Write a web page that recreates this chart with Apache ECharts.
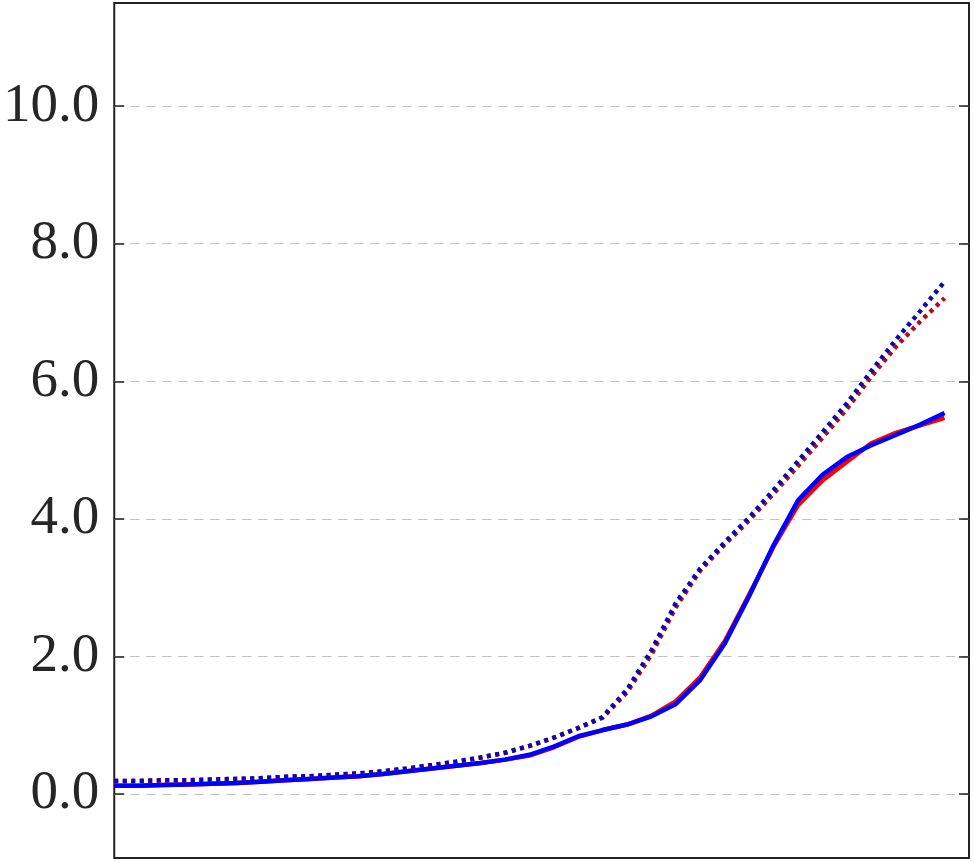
<!DOCTYPE html>
<html>
<head>
    <meta charset="utf-8">
    <title>curves</title>
    <script src="https://cdn.jsdelivr.net/npm/echarts@6/dist/echarts.min.js"></script>
    <style>
        html, body { margin: 0; padding: 0; background: #fff; }
        #main { width: 974px; height: 863px; }
    </style>
</head>
<body>
    <div id="main"></div>
    <script type="text/javascript">
    // x positions (step index)
    var steps = [0, 1, 2, 3, 4, 5, 6, 7, 8, 9, 10, 11, 12, 13, 14, 15, 16, 17,
                 18, 19, 20, 21, 22, 23, 24, 25, 26, 27, 28, 29, 30, 31, 32, 33, 34];

    // solid lines
    var redSolid = [0.12, 0.12, 0.13, 0.14, 0.15, 0.16, 0.18, 0.20, 0.22, 0.24, 0.26, 0.29,
                    0.33, 0.37, 0.41, 0.45, 0.50, 0.56, 0.68, 0.83, 0.93, 1.01, 1.14, 1.35,
                    1.70, 2.22, 2.90, 3.60, 4.20, 4.56, 4.83, 5.10, 5.25, 5.36, 5.47];
    var blueSolid = [0.12, 0.12, 0.13, 0.14, 0.15, 0.16, 0.18, 0.20, 0.22, 0.24, 0.26, 0.29,
                     0.33, 0.37, 0.41, 0.45, 0.50, 0.57, 0.69, 0.84, 0.93, 1.01, 1.13, 1.31,
                     1.66, 2.19, 2.88, 3.62, 4.27, 4.64, 4.90, 5.07, 5.22, 5.37, 5.54];

    // dotted lines
    var redDotted = [0.19, 0.19, 0.20, 0.20, 0.21, 0.22, 0.23, 0.25, 0.26, 0.28, 0.30, 0.33,
                     0.37, 0.42, 0.47, 0.53, 0.60, 0.70, 0.82, 0.96, 1.11, 1.48, 2.03, 2.72,
                     3.25, 3.63, 3.98, 4.37, 4.77, 5.18, 5.60, 6.07, 6.50, 6.87, 7.21];
    var blueDotted = [0.19, 0.19, 0.20, 0.20, 0.21, 0.22, 0.23, 0.25, 0.26, 0.28, 0.30, 0.33,
                      0.37, 0.42, 0.47, 0.53, 0.60, 0.70, 0.82, 0.96, 1.12, 1.52, 2.09, 2.78,
                      3.28, 3.66, 4.02, 4.42, 4.84, 5.26, 5.68, 6.15, 6.60, 7.02, 7.45];

    var yTicks = [0, 2, 4, 6, 8, 10];

    function pairs(ys) {
        var out = [];
        for (var i = 0; i < steps.length; i++) {
            out.push([steps[i], ys[i]]);
        }
        return out;
    }

    var myChart = echarts.init(document.getElementById('main'));

    var lineSeries = function (name, ys, color, dotted, z) {
        return {
            name: name,
            type: 'line',
            data: pairs(ys),
            showSymbol: false,
            symbol: 'none',
            z: z,
            animation: false,
            lineStyle: {
                color: color,
                width: 4.5,
                type: dotted ? [4, 4.5] : 'solid',
                cap: 'butt'
            }
        };
    };

    var yCommon = {
        type: 'value',
        min: -0.93,
        max: 11.5,
        axisLine: { show: false },
        axisTick: {
            show: true,
            inside: true,
            length: 10,
            customValues: yTicks,
            lineStyle: { color: '#222', width: 1.5 }
        }
    };

    var option = {
        animation: false,
        grid: {
            left: 113,
            right: 5,
            top: 3,
            bottom: 5,
            show: true,
            borderColor: '#222',
            borderWidth: 2,
            backgroundColor: '#fff'
        },
        xAxis: {
            type: 'value',
            min: 0,
            max: 35,
            axisLine: { show: false },
            axisTick: { show: false },
            axisLabel: { show: false },
            splitLine: { show: false }
        },
        yAxis: [
            Object.assign({}, yCommon, {
                position: 'left',
                axisLabel: {
                    show: true,
                    customValues: yTicks,
                    margin: 15,
                    fontFamily: 'Liberation Serif',
                    fontSize: 55,
                    color: '#262626',
                    formatter: function (v) { return v.toFixed(1); }
                },
                splitLine: {
                    show: true,
                    lineStyle: { color: '#c0c0c0', width: 1.2, type: [9, 7] }
                }
            }),
            Object.assign({}, yCommon, {
                position: 'right',
                axisLabel: { show: false },
                splitLine: { show: false }
            })
        ],
        series: [
            lineSeries('red dotted', redDotted, '#b00a1c', true, 2),
            lineSeries('blue dotted', blueDotted, '#0a0aa8', true, 3),
            lineSeries('red solid', redSolid, '#ff0000', false, 4),
            lineSeries('blue solid', blueSolid, '#0000ff', false, 5)
        ]
    };

    myChart.setOption(option);
    </script>
</body>
</html>
